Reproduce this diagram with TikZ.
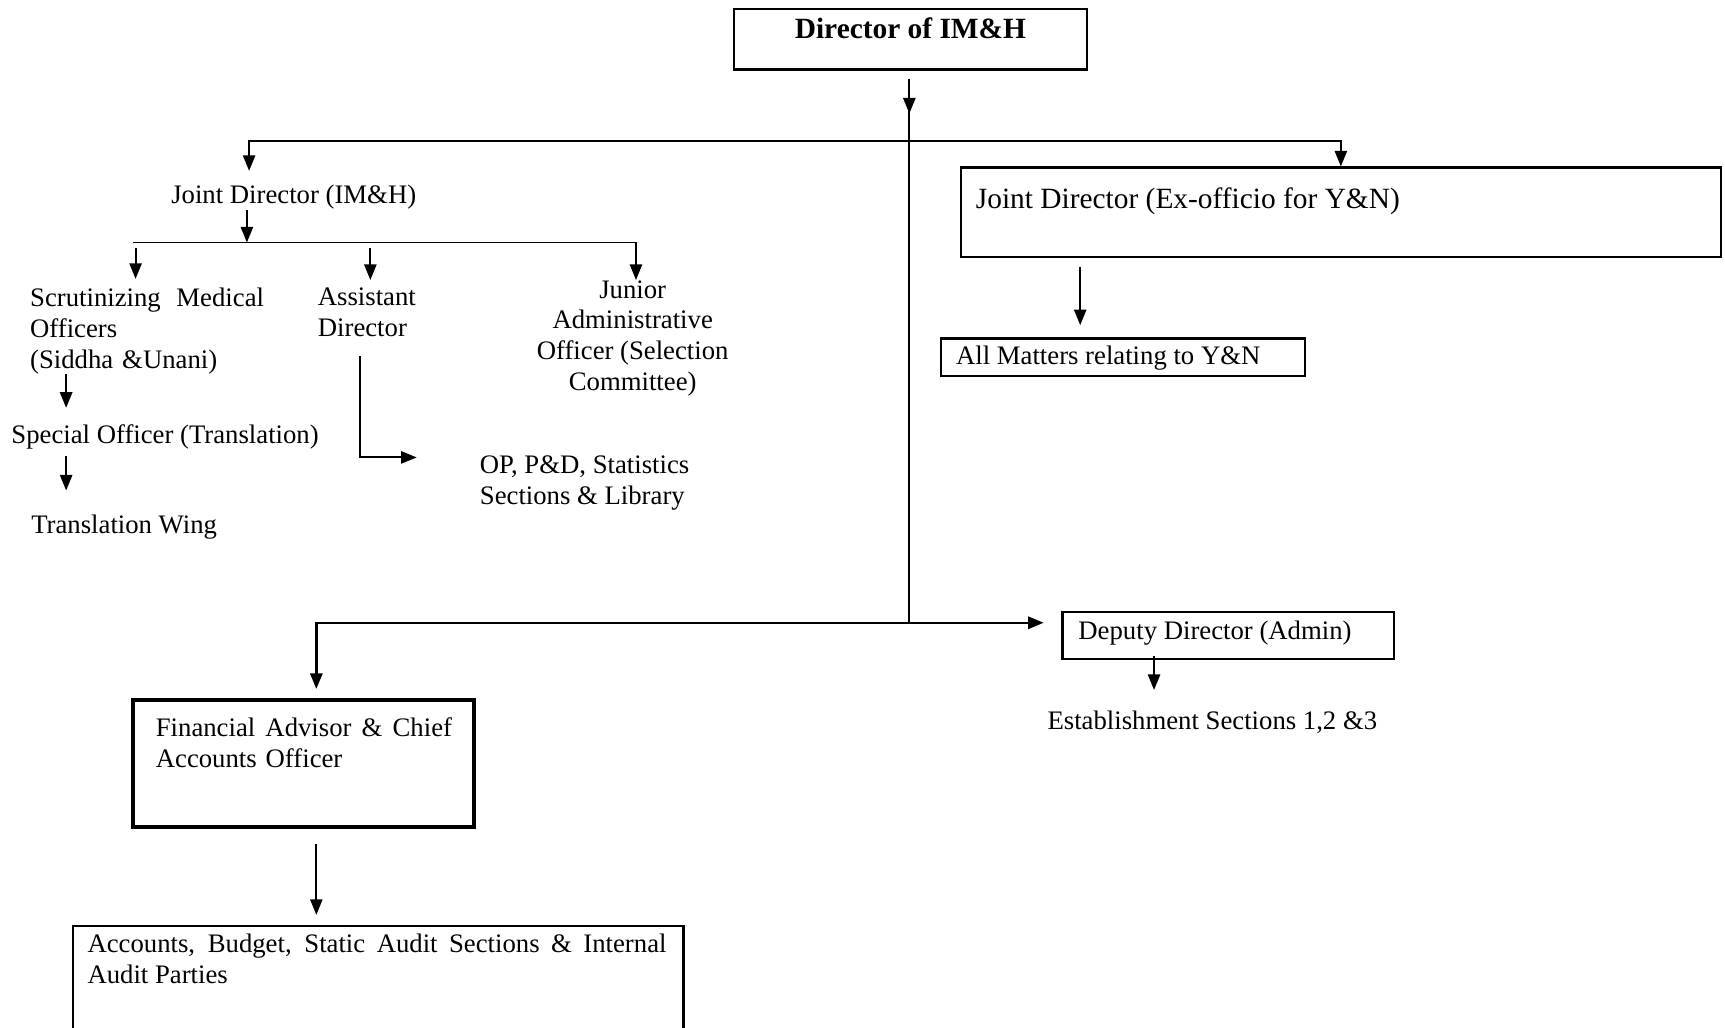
\documentclass[tikz,border=0pt]{standalone}
\usepackage{fontspec}
\setmainfont{Liberation Serif}
\usetikzlibrary{arrows.meta,fit,calc}
\tikzstyle{unitbox}=[draw, line width=1pt, inner sep=0pt]
\tikzstyle{heavybox}=[draw, line width=1.8pt, inner sep=0pt]
\tikzstyle{lbl}=[inner sep=0pt, font=\fontsize{12}{13.8}\selectfont]
\tikzstyle{biglbl}=[inner sep=0pt, font=\fontsize{13.2}{15}\selectfont]
\tikzstyle{conn}=[line width=0.85pt]
\tikzstyle{arr}=[conn, -{Triangle[length=7pt,width=5.5pt]}]
\tikzstyle{twoarr}=[line width=1.1pt, {Triangle[length=7pt,width=5.5pt]}-{Triangle[length=7pt,width=5.5pt]}]

\begin{document}
\begin{tikzpicture}[x=0.495pt, y=-0.495pt]
	\useasboundingbox (0,0) rectangle (1565,932);
	\node[unitbox, fit={(666,8) (986,63)}] (dir) {};
	\node[biglbl, anchor=base] (dirtext) at (826,35) {\textbf{Director of IM\&H}};
	\node[lbl, anchor=base west] (jdih) at (155,185) {Joint Director (IM\&H)};
	\node[lbl, anchor=north west, text width=105pt, align=left] (smo) at (27,261) {Scrutinizing\hfill Medical\\Officers\\(Siddha \&Unani)};
	\node[lbl, anchor=north west, align=left] (asd) at (288,261) {Assistant\\Director};
	\node[lbl, anchor=north, align=center] (jao) at (574,254) {Junior\\Administrative\\Officer (Selection\\Committee)};
	\node[lbl, anchor=base west] (spo) at (10,402) {Special Officer (Translation)};
	\node[lbl, anchor=base west] (tw) at (28,484) {Translation Wing};
	\node[lbl, anchor=north west, align=left] (ops) at (435,413) {OP, P\&D, Statistics\\Sections \& Library};
	\node[unitbox, fit={(872,152) (1561,233)}] (jdyn) {};
	\node[biglbl, anchor=base west] (jdyntext) at (885,189) {Joint Director (Ex-officio for Y\&N)};
	\node[unitbox, fit={(854,307) (1184,341)}] (allyn) {};
	\node[lbl, anchor=base west] (allyntext) at (867,331) {All Matters relating to Y\&N};
	\node[unitbox, fit={(964,555) (1265,598)}] (dd) {};
	\node[lbl, anchor=base west] (ddtext) at (978,580) {Deputy Director (Admin)};
	\node[lbl, anchor=base west] (est) at (950,662) {Establishment Sections 1,2 \&3};
	\node[heavybox, fit={(121,635) (430,750)}] (fa) {};
	\node[lbl, anchor=north west, text width=133pt, align=left] (fatext) at (141,651) {Financial\hfill Advisor\hfill\&\hfill Chief\\Accounts Officer};
	\node[unitbox, fit={(66,840) (620,960)}] (acc) {};
	\node[lbl, anchor=north west, text width=260pt, align=justify] (acctext) at (79,847) {Accounts, Budget, Static Audit Sections \& Internal Audit Parties};
	\coordinate (top) at (825,72);
	\coordinate (hub) at (825,128);
	\coordinate (base) at (825,565);
	\coordinate (jdihin) at (226,155);
	\coordinate (bus) at (224,220);
	\coordinate (busl) at (121,220);
	\coordinate (busr) at (577,220);
	\coordinate (smoin) at (123,253);
	\coordinate (asdin) at (336,254);
	\coordinate (spoin) at (60,370);
	\coordinate (twin) at (60,445);
	\coordinate (asdout) at (327,323);
	\coordinate (opsin) at (378,415);
	\coordinate (ynin) at (980,295);
	\coordinate (fain) at (287,625);
	\coordinate (estin) at (1047,626);
	\coordinate (accin) at (287,830);
	\draw[arr] (top) -- ++(0,31);
	\draw[conn] (top) -- (base);
	\draw[arr] (hub) -| (jdihin);
	\draw[arr] (hub) -| (jdyn.north);
	\draw[arr] (jdih.south -| bus) -- (bus);
	\draw[conn] (busl) -- (busr);
	\draw[arr] (busr) -- (busr |- jao.north);
	\draw[arr, shorten <=2.5pt] (smoin |- busl) -- (smoin);
	\draw[arr, shorten <=2.5pt] (asdin |- busl) -- (asdin);
	\draw[arr] (spoin |- smo.south) -- (spoin);
	\draw[arr, shorten <=3pt] (twin |- spo.south) -- (twin);
	\draw[arr] (asdout) |- (opsin);
	\draw[arr, shorten <=4pt] (ynin |- jdyn.south) -- (ynin);
	\draw[twoarr, shorten >=8pt] (fain) |- (base -| dd.west);
	\draw[arr, shorten <=-2pt] (estin |- dd.south) -- (estin);
	\draw[arr, shorten <=7pt] (accin |- fa.south) -- (accin);
\end{tikzpicture}
\end{document}
